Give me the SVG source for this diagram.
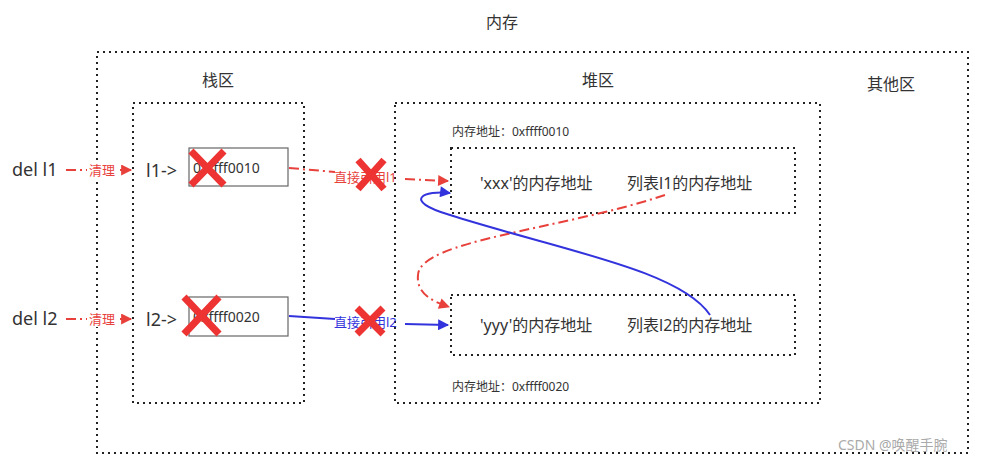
<svg xmlns="http://www.w3.org/2000/svg" width="1004" height="464" viewBox="0 0 1004 464">
<style>
text{font-family:"Noto Sans","Noto Sans CJK SC",sans-serif;fill:#333}
.dot{fill:none;stroke:#222;stroke-width:2;stroke-dasharray:2 4}
.box{fill:#fff;stroke:#666;stroke-width:1.2}
.red{fill:none;stroke:#e8413c;stroke-width:2;stroke-dasharray:10 4 2 4}
.blue{fill:none;stroke:#3333dd;stroke-width:2}
.x{stroke:#ee3333;stroke-width:7;stroke-linecap:butt}
.rt{fill:#e8413c;font-size:13px}
.bt{fill:#3333dd;font-size:13px}
</style>
<defs>
<marker id="ar" viewBox="0 0 10 10" refX="9" refY="5" markerWidth="13" markerHeight="11" markerUnits="userSpaceOnUse" orient="auto"><path d="M0,0 L10,5 L0,10 z" fill="#e8413c"/></marker>
<marker id="ab" viewBox="0 0 10 10" refX="9" refY="5" markerWidth="13" markerHeight="11" markerUnits="userSpaceOnUse" orient="auto"><path d="M0,0 L10,5 L0,10 z" fill="#3333dd"/></marker>
</defs>
<rect width="1004" height="464" fill="#fff"/>
<g id="memory"><rect class="dot" x="97" y="52" width="871" height="401"/><text x="502" y="28" font-size="16" text-anchor="middle">内存</text></g>
<g id="stack"><rect class="dot" x="133" y="103" width="171" height="300"/><text x="218" y="86" font-size="16" text-anchor="middle">栈区</text></g>
<g id="heap"><rect class="dot" x="395" y="103" width="425" height="300"/><text x="598" y="86" font-size="16" text-anchor="middle">堆区</text>
<text x="452" y="136" font-size="12">内存地址：0xffff0010</text><text x="452" y="391" font-size="12">内存地址：0xffff0020</text></g>
<g id="other"><text x="891" y="90" font-size="16" text-anchor="middle">其他区</text></g>
<g id="del1"><text x="12" y="176" font-size="18">del l1</text></g>
<g id="del2"><text x="12" y="325" font-size="18">del l2</text></g>
<g id="l1"><text x="146" y="177" font-size="18">l1-&gt;</text><rect class="box" x="189" y="148" width="99" height="38"/><text x="193" y="173" font-size="14">0xffff0010</text></g>
<g id="l2"><text x="146" y="326" font-size="18">l2-&gt;</text><rect class="box" x="189" y="297" width="99" height="39"/><text x="193" y="322" font-size="14">0xffff0020</text></g>
<g id="obj1"><rect class="dot" x="451" y="148" width="344" height="65"/><text x="480" y="189" font-size="16">'xxx'的内存地址</text><text x="627" y="189" font-size="16">列表l1的内存地址</text></g>
<g id="obj2"><rect class="dot" x="451" y="295" width="344" height="60"/><text x="480" y="331" font-size="16">'yyy'的内存地址</text><text x="627" y="331" font-size="16">列表l2的内存地址</text></g>
<g id="connectors">
<path class="red" d="M66,170 H131" marker-end="url(#ar)"/>
<path class="red" d="M66,319 H131" marker-end="url(#ar)"/>
<path class="red" d="M289,168 L335,172 M405,179 L448,181" marker-end="url(#ar)"/>
<path class="blue" d="M289,316 L335,319 M405,324 L448,325" marker-end="url(#ab)"/>
<path class="red" d="M665,195 C560,230 420,240 418,275 C416,295 435,302 449,307" marker-end="url(#ar)"/>
<path class="blue" d="M710,315 C680,270 560,250 450,215 C400,200 425,190 450,193" marker-end="url(#ab)"/>
<rect x="87" y="162" width="30" height="16" fill="#fff"/><text class="rt" x="89" y="175">清理</text>
<rect x="87" y="311" width="30" height="16" fill="#fff"/><text class="rt" x="89" y="324">清理</text>
<text class="rt" x="334" y="182">直接引用l1</text>
<text class="bt" x="334" y="327">直接引用l2</text>
</g>
<g id="crosses">
<path class="x" d="M191,151 L224,185 M224,151 L191,185"/>
<path class="x" d="M184,297 L219,334 M219,297 L184,334"/>
<path class="x" d="M358,160 L384,189 M384,160 L358,189"/>
<path class="x" d="M357,308 L383,334 M383,308 L357,334"/>
</g>
<text x="838" y="450" font-size="14" style="fill:#aaa">CSDN @唤醒手腕</text>
</svg>
